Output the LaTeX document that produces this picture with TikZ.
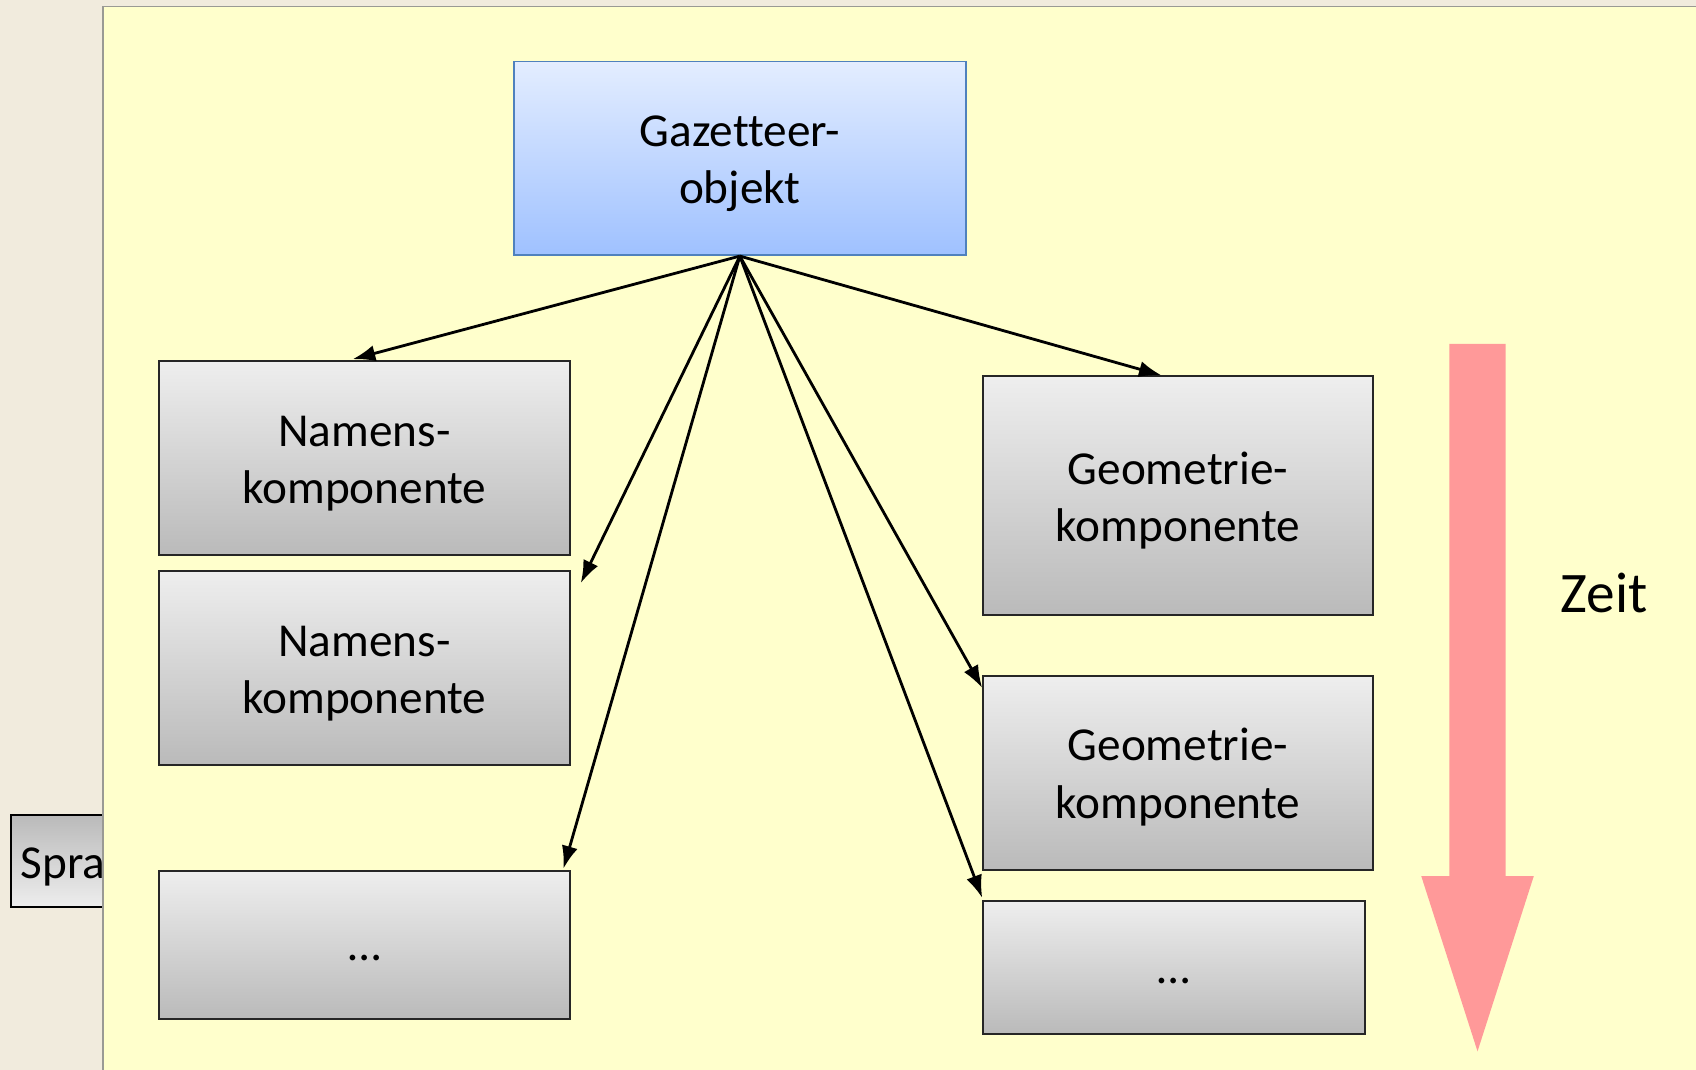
\documentclass[tikz,border=0pt]{standalone}
\usepackage{fontspec}
\setmainfont[Ligatures=NoCommon]{Carlito}
\usetikzlibrary{calc,arrows.meta}
\definecolor{slide}{HTML}{F1EBDD}
\definecolor{panel}{HTML}{FFFFCC}
\definecolor{panelLine}{HTML}{9A9A94}
\definecolor{compTop}{HTML}{EEEEEE}
\definecolor{compBottom}{HTML}{BABABA}
\definecolor{objTop}{HTML}{E3EDFF}
\definecolor{objBottom}{HTML}{9FC1FF}
\definecolor{objLine}{HTML}{4F81BD}
\definecolor{timeRed}{HTML}{FF9999}
\begin{document}
\begin{tikzpicture}[x=1pt, y=-1pt,
        comp/.style = {draw=black!85, line width=1.8pt, top color=compTop, bottom color=compBottom,
                       inner sep=0pt},
        ctext/.style = {align=center, inner sep=0pt, font=\fontsize{43.7}{53}\selectfont},
        link/.style = {-{Latex[length=21pt,width=15pt]}, line width=2.6pt}]

    \useasboundingbox (0,0) rectangle (1568,989);

    % Slide background
    \fill[slide] (0,0) rectangle (1568,989);

    % Box behind the panel
    \node[draw=black, line width=1.8pt, top color=compBottom, bottom color=compTop,
          minimum width=130pt, minimum height=85pt, inner sep=0pt, anchor=north west] (lang) at (9,753) {};
    \node[ctext, anchor=west] (langText) at ([xshift=10pt,yshift=-5pt]lang.west) {Spra};

    % Yellow panel
    \fill[panel] (95,6) rectangle (1570,991);
    \draw[panelLine, line width=1.5pt] (95,991) -- (95,6) -- (1570,6);

    % Gazetteer object
    \node[comp, draw=objLine, line width=1.5pt, top color=objTop, bottom color=objBottom,
          minimum width=418pt, minimum height=179pt] (gaz) at (684,146.5) {};
    \node[ctext] (gazText) at ([yshift=-5pt]gaz.center) {Gazetteer-\\objekt};

    % Name components
    \node[comp, minimum width=380pt, minimum height=179pt] (nam1) at (337,423.5) {};
    \node[comp, minimum width=380pt, minimum height=179pt] (nam2) at (337,617.5) {};
    \node[comp, minimum width=380pt, minimum height=137pt] (namX) at (337,873.5) {};
    \node[ctext] (nam1Text) at ([yshift=-5pt]nam1.center) {Namens-\\komponente};
    \node[ctext] (nam2Text) at ([yshift=-5pt]nam2.center) {Namens-\\komponente};
    \node[ctext] (namXText) at ([yshift=-12pt]namX.center) {\dots};

    % Geometry components
    \node[comp, minimum width=360pt, minimum height=221pt] (geo1) at (1089,458.5) {};
    \node[comp, minimum width=360pt, minimum height=179pt] (geo2) at (1089,714.5) {};
    \node[comp, minimum width=353pt, minimum height=123pt] (geoX) at (1085.5,894.5) {};
    \node[ctext] (geo1Text) at ([yshift=-4pt]geo1.center) {Geometrie-\\komponente};
    \node[ctext] (geo2Text) at ([yshift=-4pt]geo2.center) {Geometrie-\\komponente};
    \node[ctext] (geoXText) at ([yshift=-12pt]geoX.center) {\dots};

    % Connectors
    \draw[link] (gaz.south) -- ($(nam1.north)+(-11,-1)$);
    \draw[link] (gaz.south) -- ($(nam2.north east)+(9,12)$);
    \draw[link] (gaz.south) -- ($(namX.north east)+(-7,-1)$);
    \draw[link] (gaz.south) -- ($(geo1.north)+(-15,0)$);
    \draw[link] (gaz.south) -- ($(geo2.north west)+(0,12)$);
    \draw[link] (gaz.south) -- ($(geoX.north west)+(0,-2)$);

    % Time arrow
    \fill[timeRed] (1340,318) -- (1392,318) -- (1392,810) -- (1418,810)
        -- (1366,972) -- (1314,810) -- (1340,810) -- cycle;
    \node[font=\fontsize{53}{64}\selectfont] (time) at (1483,548) {Zeit};

\end{tikzpicture}
\end{document}
